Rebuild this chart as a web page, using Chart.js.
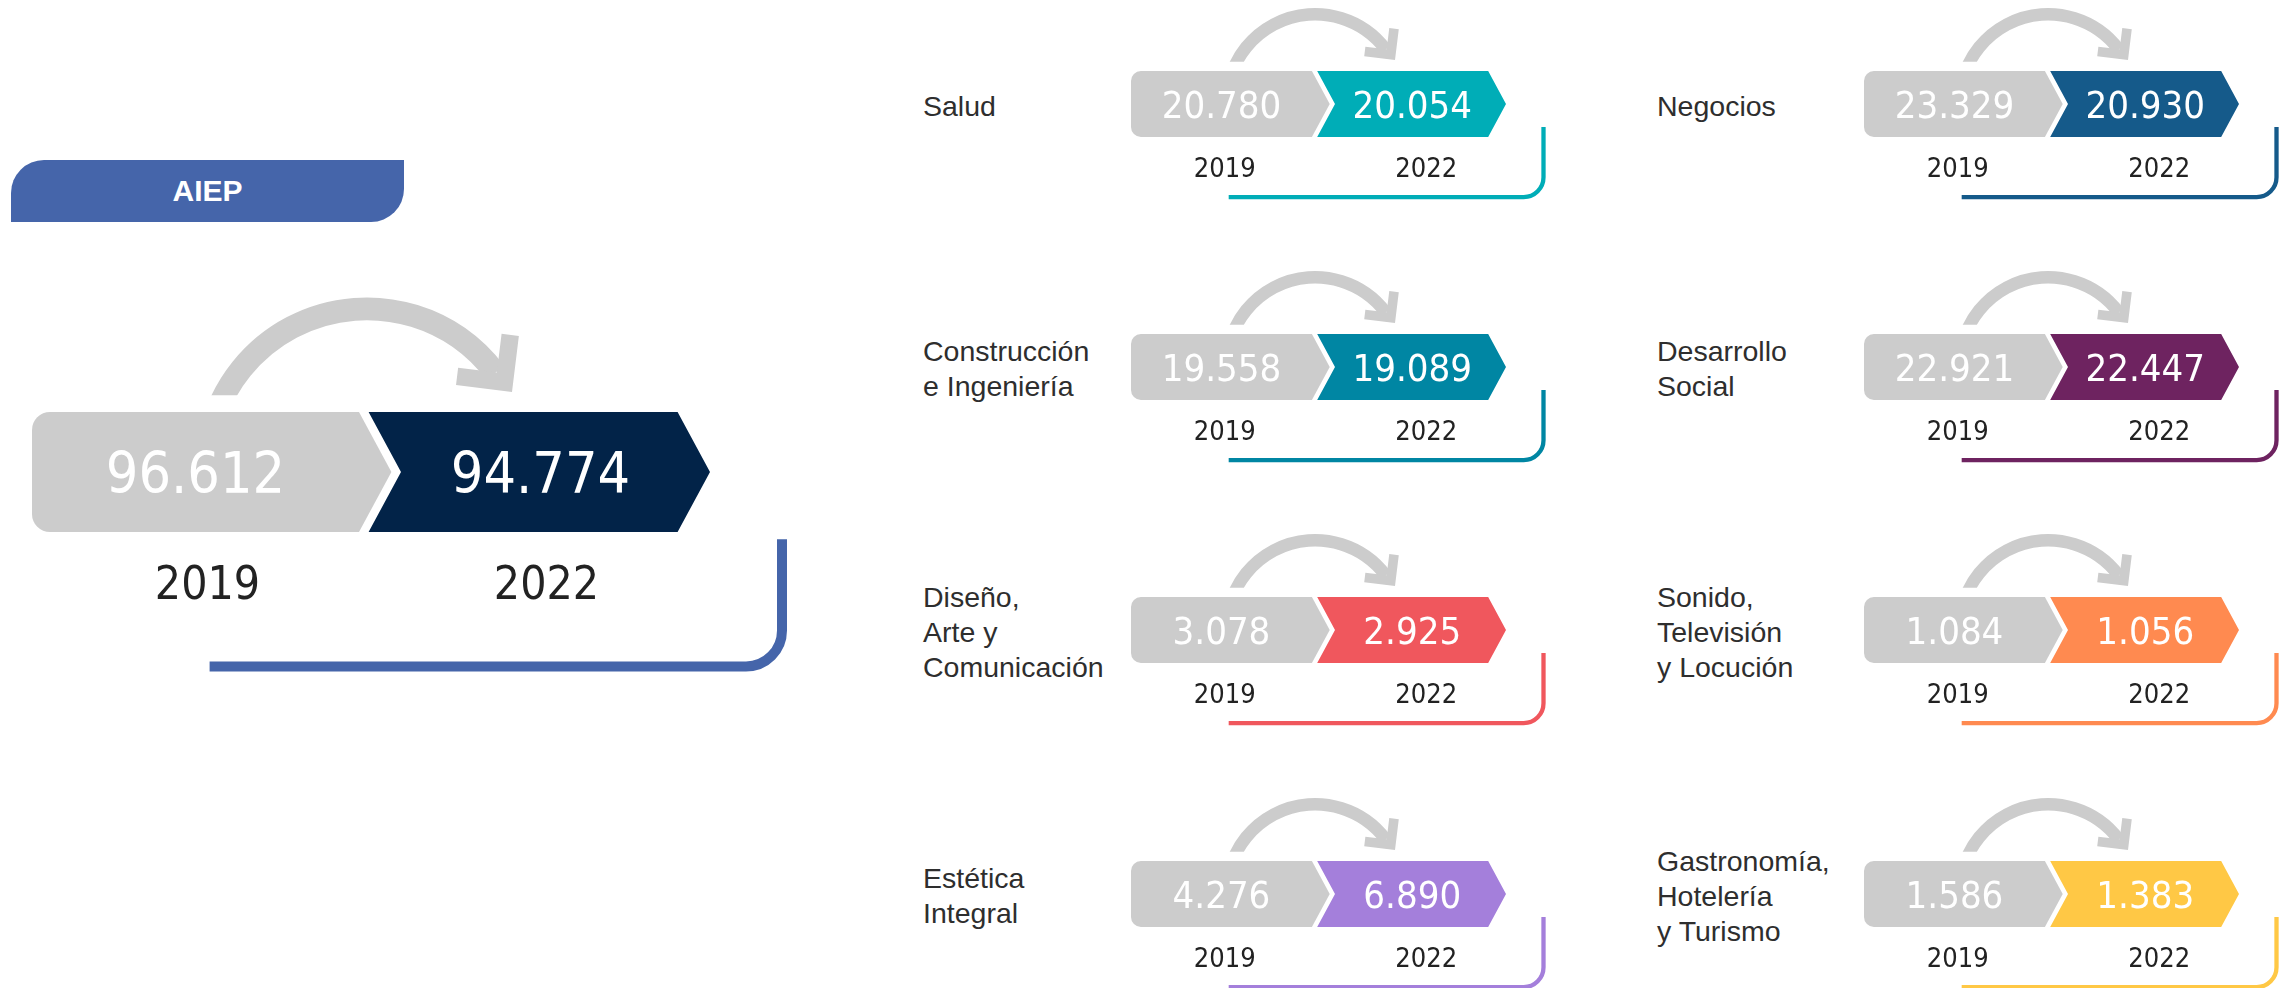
<!DOCTYPE html>
<html><head><meta charset="utf-8">
<script src="https://cdn.jsdelivr.net/npm/chart.js@4.4.1/dist/chart.umd.min.js"></script>
<style>
html,body{margin:0;padding:0;background:#fff;}
body{width:2283px;height:988px;overflow:hidden;position:relative;}
.lbl{position:absolute;font-family:"Liberation Sans",Arial,sans-serif;font-size:28.5px;line-height:35px;color:#2e2e2e;white-space:pre-line;display:flex;align-items:center;}
.hdr{position:absolute;left:11px;top:160px;width:393px;height:62px;background:#4565AA;border-radius:33px 0 33px 0;color:#fff;font-family:"Liberation Sans",Arial,sans-serif;font-weight:bold;font-size:30px;display:flex;align-items:center;justify-content:center;}
canvas{position:absolute;}
</style></head><body>
<script>
// ---- data ----
const panelTitle = 'AIEP';
const areaNames = ['AIEP', 'Salud', 'Construcción\ne Ingeniería', 'Diseño,\nArte y\nComunicación', 'Estética\nIntegral',
                   'Negocios', 'Desarrollo\nSocial', 'Sonido,\nTelevisión\ny Locución', 'Gastronomía,\nHotelería\ny Turismo'];
const years = ['2019', '2022'];
const values2019 = [96612, 20780, 19558, 3078, 4276, 23329, 22921, 1084, 1586];
const values2022 = [94774, 20054, 19089, 2925, 6890, 20930, 22447, 1056, 1383];
const colors2022 = ['#022348', '#00ADB7', '#0086A3', '#F0575D', '#A47FDB', '#155A8A', '#6E2360', '#FF8A50', '#FFC845'];
const bracketColors = ['#4565AA', '#00ADB7', '#0086A3', '#F0575D', '#A47FDB', '#155A8A', '#6E2360', '#FF8A50', '#FFC845'];
const gray2019 = '#CCCCCC';

// ---- layout (positions / styles) ----
const colLeft = [1131, 1864];
const labelLeft = [923, 1657];
const rowTop = [71, 334, 597, 861];
const VAL_FONT = '"DejaVu Sans Condensed","Liberation Sans Narrow",Roboto,sans-serif';

function fmt(v){ return String(v).replace(/\B(?=(\d{3})+(?!\d))/g, '.'); }

const layouts = [{L:32, T:412, h:120, W:678, valSize:57, yearSize:46, brTop:1.06, brY:2.12, brW:10, yearOff:0.42, yearDx:[6, 6]}];
for (let c = 0; c < 2; c++) for (let r = 0; r < 4; r++) {
  layouts.push({L:colLeft[c], T:rowTop[r], h:66, W:375, valSize:38, yearSize:27, brTop:0.85, brY:1.91, brW:4.3, yearOff:0.45, yearDx:[0, 14], labelX:labelLeft[c]});
}

const hdr = document.createElement('div');
hdr.className = 'hdr'; hdr.textContent = panelTitle;
document.body.appendChild(hdr);

function makePanel(i){
  const lay = layouts[i];
  const {L, T, h, W} = lay;
  if (lay.labelX !== undefined) {
    const d = document.createElement('div');
    d.className = 'lbl';
    d.style.left = lay.labelX + 'px';
    d.style.top = (T - 48) + 'px';
    d.style.height = (h + 100) + 'px';
    d.textContent = areaNames[i];
    document.body.appendChild(d);
  }
  const padL = 6, padTop = Math.ceil(1.05 * h);
  const cw = Math.ceil(6.42 * h) + padL, ch = Math.ceil(3.3 * h);
  const cv = document.createElement('canvas');
  cv.width = cw; cv.height = ch;
  cv.style.left = (L - padL) + 'px'; cv.style.top = (T - padTop) + 'px';
  cv.style.width = cw + 'px'; cv.style.height = ch + 'px';
  document.body.appendChild(cv);

  const col = colors2022[i], bcol = bracketColors[i];
  const decor = {
    id: 'decor' + i,
    beforeDatasetsDraw(chart){
      const ctx = chart.ctx, a = chart.chartArea;
      const hh = a.bottom - a.top, x0 = a.left, y0 = a.top;
      // curved arrow
      const cx = x0 + 2.79 * hh, cy = y0 + 0.48 * hh, R = 1.34 * hh;
      ctx.save();
      ctx.beginPath(); ctx.rect(0, 0, chart.width, y0 - 0.14 * hh); ctx.clip();
      ctx.beginPath();
      ctx.arc(cx, cy, R, Math.PI + 0.3, 2 * Math.PI - 0.646);
      ctx.strokeStyle = gray2019; ctx.lineWidth = 0.19 * hh; ctx.lineCap = 'butt';
      ctx.stroke();
      ctx.restore();
      ctx.save();
      ctx.translate(x0 + 4.0 * hh, y0 - 0.167 * hh);
      ctx.rotate(0.122);
      const A = 0.47 * hh, t = 0.145 * hh;
      ctx.beginPath();
      ctx.moveTo(0, 0); ctx.lineTo(0, -A); ctx.lineTo(-t, -A); ctx.lineTo(-t, -t);
      ctx.lineTo(-A, -t); ctx.lineTo(-A, 0); ctx.closePath();
      ctx.fillStyle = gray2019; ctx.fill();
      ctx.restore();
    },
    afterDatasetsDraw(chart){
      const ctx = chart.ctx;
      const e0 = chart.getDatasetMeta(0).data[0].getProps(['x','y','base','width'], true);
      const e1 = chart.getDatasetMeta(1).data[1].getProps(['x','y','base','width'], true);
      const t = e0.y, u = e0.base, hh = u - t, c = (t + u) / 2;
      const d = 0.27 * hh, s = 0.1 * hh, g = 0.08 * hh, r = 0.15 * hh;
      // 2019 box
      let a = e0.x - e0.width / 2, b = e0.x + e0.width / 2;
      ctx.save();
      ctx.beginPath();
      ctx.moveTo(a + r, t); ctx.lineTo(b - s, t); ctx.lineTo(b - s + d, c); ctx.lineTo(b - s, u);
      ctx.lineTo(a + r, u); ctx.arcTo(a, u, a, u - r, r); ctx.lineTo(a, t + r); ctx.arcTo(a, t, a + r, t, r);
      ctx.closePath(); ctx.fillStyle = gray2019; ctx.fill();
      // 2022 box
      const t1 = e1.y, u1 = e1.base;
      a = e1.x - e1.width / 2; b = e1.x + e1.width / 2;
      const a0 = a - s + g;
      ctx.beginPath();
      ctx.moveTo(a0, t1); ctx.lineTo(b - d, t1); ctx.lineTo(b, c); ctx.lineTo(b - d, u1);
      ctx.lineTo(a0, u1); ctx.lineTo(a0 + d, c); ctx.closePath();
      ctx.fillStyle = col; ctx.fill();
      // values
      ctx.fillStyle = '#fff';
      ctx.font = lay.valSize + 'px ' + VAL_FONT;
      ctx.textAlign = 'center'; ctx.textBaseline = 'alphabetic';
      const by = c + 0.3645 * lay.valSize;
      ctx.fillText(fmt(chart.data.datasets[0].data[0]), e0.x - s / 2, by);
      ctx.fillText(fmt(chart.data.datasets[1].data[1]), e1.x, by);
      // year tick labels from the category scale
      const xs = chart.scales.x, labs = xs.getLabels();
      ctx.fillStyle = '#222';
      ctx.font = lay.yearSize + 'px ' + VAL_FONT;
      const yy = u + lay.yearOff * hh + 0.3645 * lay.yearSize;
      for (let k = 0; k < labs.length; k++) ctx.fillText(labs[k], xs.getPixelForTick(k) + lay.yearDx[k], yy);
      // bracket
      const ax = chart.chartArea.left;
      const vx = ax + 6.25 * hh, yTop = t + lay.brTop * hh, yB = t + lay.brY * hh, rr = 0.3 * hh;
      ctx.beginPath();
      ctx.moveTo(vx, yTop); ctx.lineTo(vx, yB - rr); ctx.arcTo(vx, yB, vx - rr, yB, rr); ctx.lineTo(ax + 1.48 * hh, yB);
      ctx.strokeStyle = bcol; ctx.lineWidth = lay.brW; ctx.lineCap = 'butt'; ctx.stroke();
      ctx.restore();
    }
  };

  new Chart(cv, {
    type: 'bar',
    data: {
      labels: years,
      datasets: [
        {label: years[0], data: [values2019[i], null], yAxisID: 'y19', backgroundColor: 'rgba(0,0,0,0)', borderWidth: 0, grouped: false, barPercentage: 1, categoryPercentage: 1},
        {label: years[1], data: [null, values2022[i]], yAxisID: 'y22', backgroundColor: 'rgba(0,0,0,0)', borderWidth: 0, grouped: false, barPercentage: 1, categoryPercentage: 1}
      ]
    },
    options: {
      responsive: false, animation: false, events: [], devicePixelRatio: 1,
      layout: {padding: {left: padL, top: padTop, right: cw - padL - W, bottom: ch - padTop - h}},
      plugins: {legend: {display: false}, tooltip: {enabled: false}},
      scales: {
        x: {display: false},
        y19: {display: false, min: 0, max: values2019[i]},
        y22: {display: false, min: 0, max: values2022[i]}
      }
    },
    plugins: [decor]
  });
}
for (let i = 0; i < layouts.length; i++) makePanel(i);
</script>
</body></html>
